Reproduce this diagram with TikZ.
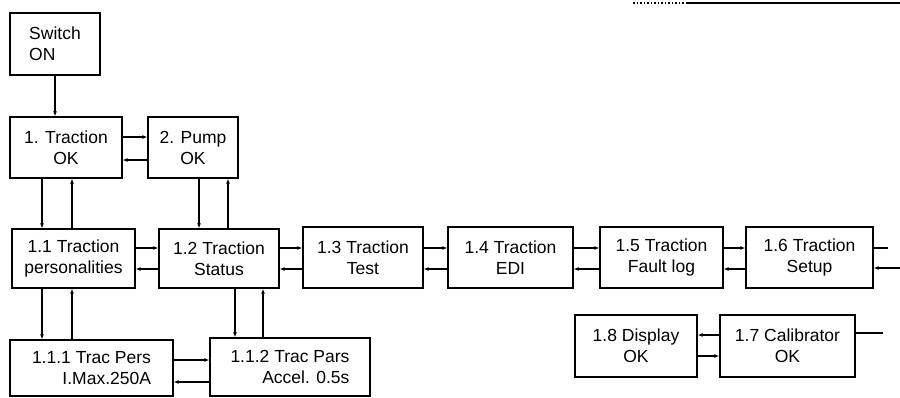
\documentclass[tikz,border=0pt]{standalone}
\usepackage{fontspec}
\setmainfont{Liberation Sans}
\usetikzlibrary{arrows.meta}
\begin{document}
\begin{tikzpicture}[x=1pt,y=-1pt,
  box/.style={draw, line width=1.3pt, rectangle, inner sep=2pt, align=center,
              font=\fontsize{17.5}{21}\selectfont},
  conn/.style={line width=1.3pt, -{Latex[length=5pt,width=4pt]}},
  plainline/.style={line width=1.3pt}]
\useasboundingbox (0,0) rectangle (900,397);
% boxes
\node[box, minimum width=90pt, minimum height=62pt, align=left] (sw) at (55,44) {Switch\\ON};
\node[box, minimum width=112pt, minimum height=61pt] (t1) at (66,147.5) {1. Traction\\OK};
\node[box, minimum width=90pt, minimum height=61pt] (pump) at (193,147.5) {2. Pump\\OK};
\node[box, minimum width=123pt, minimum height=59pt] (p11) at (73.5,258.5) {1.1 Traction\\personalities};
\node[box, minimum width=120pt, minimum height=59pt] (p12) at (219,258.5) {1.2 Traction\\Status};
\node[box, minimum width=120pt, minimum height=61pt] (p13) at (363,257.5) {1.3 Traction\\Test};
\node[box, minimum width=125pt, minimum height=61pt] (p14) at (510.5,257.5) {1.4 Traction\\EDI};
\node[box, minimum width=123pt, minimum height=61pt] (p15) at (661.5,257.5) {1.5 Traction\\Fault log};
\node[box, minimum width=127pt, minimum height=61pt] (p16) at (809.5,257.5) {1.6 Traction\\Setup};
\node[box, minimum width=122pt, minimum height=62pt] (p18) at (636,346) {1.8 Display\\OK};
\node[box, minimum width=135pt, minimum height=62pt] (p17) at (787.5,346) {1.7 Calibrator\\OK};
\node[box, minimum width=163pt, minimum height=56pt, align=right] (p111) at (91.5,368) {1.1.1 Trac Pers\\I.Max.250A};
\node[box, minimum width=160pt, minimum height=58pt, align=right] (p112) at (290,367) {1.1.2 Trac Pars\\Accel. 0.5s};
% free ends
\coordinate (e16out) at (888,248);
\coordinate (e16in) at (900,268);
\coordinate (e17out) at (883,333);
\coordinate (topa) at (633,3);
\coordinate (topb) at (687,3);
\coordinate (topc) at (900,3);
% connectors
\draw[conn] (sw.south) -- (sw.south |- t1.north);
\draw[conn] (t1.east |- 0,137) -- (pump.west |- 0,137);
\draw[conn] (pump.west |- 0,160) -- (t1.east |- 0,160);
\draw[conn] (t1.south -| 42,0) -- (p11.north -| 42,0);
\draw[conn] (p11.north -| 72,0) -- (t1.south -| 72,0);
\draw[conn] (pump.south -| 199,0) -- (p12.north -| 199,0);
\draw[conn] (p12.north -| 228,0) -- (pump.south -| 228,0);
\draw[conn] (p11.east |- 0,248) -- (p12.west |- 0,248);
\draw[conn] (p12.west |- 0,269) -- (p11.east |- 0,269);
\draw[conn] (p12.east |- 0,248) -- (p13.west |- 0,248);
\draw[conn] (p13.west |- 0,269) -- (p12.east |- 0,269);
\draw[conn] (p13.east |- 0,248) -- (p14.west |- 0,248);
\draw[conn] (p14.west |- 0,269) -- (p13.east |- 0,269);
\draw[conn] (p14.east |- 0,248) -- (p15.west |- 0,248);
\draw[conn] (p15.west |- 0,269) -- (p14.east |- 0,269);
\draw[conn] (p15.east |- 0,248) -- (p16.west |- 0,248);
\draw[conn] (p16.west |- 0,269) -- (p15.east |- 0,269);
\draw[plainline] (p16.east |- e16out) -- (e16out);
\draw[conn] (e16in) -- (p16.east |- e16in);
\draw[conn] (p11.south -| 42,0) -- (p111.north -| 42,0);
\draw[conn] (p111.north -| 72,0) -- (p11.south -| 72,0);
\draw[conn] (p12.south -| 235,0) -- (p112.north -| 235,0);
\draw[conn] (p112.north -| 263,0) -- (p12.south -| 263,0);
\draw[conn] (p111.east |- 0,360) -- (p112.west |- 0,360);
\draw[conn] (p112.west |- 0,382) -- (p111.east |- 0,382);
\draw[conn] (p17.west |- 0,335) -- (p18.east |- 0,335);
\draw[conn] (p18.east |- 0,356) -- (p17.west |- 0,356);
\draw[plainline] (p17.east |- e17out) -- (e17out);
\draw[line width=1.5pt, dotted] (topa) -- (topb);
\draw[line width=2pt] (topb) -- (topc);
\end{tikzpicture}
\end{document}
